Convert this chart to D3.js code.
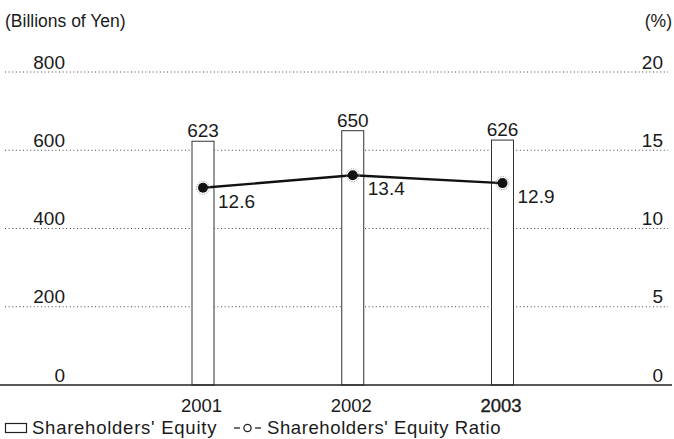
<!DOCTYPE html>
<html><head><meta charset="utf-8">
<script src="https://cdn.jsdelivr.net/npm/d3@7"></script>
<style>
body{margin:0;background:#fff;}
text{font-family:"Liberation Sans",Arial,Helvetica,sans-serif;fill:#1a1a1a;}
</style></head>
<body>
<svg id="c" width="674" height="439"></svg>
<script>
const years = ["2001","2002","2003"];
const equity = [623,650,626];
const ratio = [12.6,13.4,12.9];
const leftTicks = [0,200,400,600,800];
const rightTicks = [0,5,10,15,20];
const legendLabels = ["Shareholders' Equity","Shareholders' Equity Ratio"];

const svg = d3.select("#c");
const y0 = 385, yTop = 72;
const yL = d3.scaleLinear().domain([0,800]).range([y0,yTop]);
const yR = d3.scaleLinear().domain([0,20]).range([y0,yTop]);
const x = d3.scalePoint().domain(years).range([203,502.5]);
const barW = 22;
const FONT = "Liberation Sans, Arial, sans-serif";

// gridlines
svg.append("g").selectAll("line").data(leftTicks.filter(d=>d>0)).join("line")
  .attr("x1",5).attr("x2",668)
  .attr("y1",d=>yL(d)).attr("y2",d=>yL(d))
  .attr("stroke","#444").attr("stroke-width",1).attr("stroke-dasharray","1,2.6");

// left axis labels
const gl = svg.append("g").attr("transform","translate(65,0)")
  .call(d3.axisLeft(yL).tickValues(leftTicks).tickSize(0).tickPadding(0));
gl.select(".domain").remove();
gl.selectAll("text").attr("dy",null).attr("y",-4).attr("text-anchor","end")
  .style("font-size","19px").style("font-family",FONT).attr("fill","#1a1a1a");

// right axis labels
const gr = svg.append("g").attr("transform","translate(663,0)")
  .call(d3.axisLeft(yR).tickValues(rightTicks).tickSize(0).tickPadding(0));
gr.select(".domain").remove();
gr.selectAll("text").attr("dy",null).attr("y",-4).attr("text-anchor","end")
  .style("font-size","19px").style("font-family",FONT).attr("fill","#1a1a1a");

// bars
svg.append("g").selectAll("rect").data(equity).join("rect")
  .attr("x",(d,i)=>x(years[i])-barW/2).attr("width",barW)
  .attr("y",d=>yL(d)).attr("height",d=>y0-yL(d))
  .attr("fill","#fff").attr("stroke","#333").attr("stroke-width",1);

// bar labels
svg.append("g").selectAll("text").data(equity).join("text")
  .attr("x",(d,i)=>x(years[i])).attr("y",d=>yL(d)-4)
  .attr("text-anchor","middle").style("font-size","19px").text(d=>d);

// baseline
svg.append("line").attr("x1",0).attr("x2",672).attr("y1",y0).attr("y2",y0)
  .attr("stroke","#222").attr("stroke-width",1.5);

// x labels
const gx = svg.append("g").attr("transform",`translate(-2,${y0})`)
  .call(d3.axisBottom(x).tickSize(0).tickPadding(0));
gx.select(".domain").remove();
gx.selectAll("text").attr("dy",null).attr("y",27)
  .style("font-size","18.5px").style("font-family",FONT).attr("fill","#1a1a1a")
  .attr("stroke",d=>d==="2003"?"#1a1a1a":"none").attr("stroke-width",0.35);

// ratio line
const line = d3.line().x((d,i)=>x(years[i])).y(d=>yR(d));
svg.append("path").datum(ratio).attr("d",line)
  .attr("fill","none").attr("stroke","#111").attr("stroke-width",2.4);
svg.append("g").selectAll("circle.ring").data(ratio).join("circle")
  .attr("cx",(d,i)=>x(years[i])).attr("cy",d=>yR(d)).attr("r",6.5)
  .attr("fill","none").attr("stroke","#999").attr("stroke-width",0.8).attr("stroke-dasharray","1.5,1");
svg.append("g").selectAll("circle.dot").data(ratio).join("circle")
  .attr("cx",(d,i)=>x(years[i])).attr("cy",d=>yR(d)).attr("r",5)
  .attr("fill","#111");
svg.append("g").selectAll("text").data(ratio).join("text")
  .attr("x",(d,i)=>x(years[i])+15).attr("y",d=>yR(d)+20)
  .style("font-size","19px").text(d=>d.toFixed(1));

// titles
svg.append("text").attr("x",5).attr("y",27).style("font-size","17.5px").text("(Billions of Yen)");
svg.append("text").attr("x",672).attr("y",27).attr("text-anchor","end").style("font-size","17.5px").text("(%)");

// legend
svg.append("rect").attr("x",5.5).attr("y",423.5).attr("width",21).attr("height",9)
  .attr("fill","#fff").attr("stroke","#222").attr("stroke-width",1.2);
svg.append("text").attr("x",32).attr("y",434).style("font-size","18.5px").style("letter-spacing","0.75px").text(legendLabels[0]);
svg.append("line").attr("x1",234).attr("x2",240).attr("y1",428).attr("y2",428)
  .attr("stroke","#222").attr("stroke-width",1.3);
svg.append("line").attr("x1",255).attr("x2",261).attr("y1",428).attr("y2",428)
  .attr("stroke","#222").attr("stroke-width",1.3);
svg.append("circle").attr("cx",247.5).attr("cy",428).attr("r",3.6)
  .attr("fill","#fff").attr("stroke","#222").attr("stroke-width",1.3);
svg.append("text").attr("x",267).attr("y",434).style("font-size","18.5px").style("letter-spacing","0.6px").text(legendLabels[1]);
</script>
</body></html>
